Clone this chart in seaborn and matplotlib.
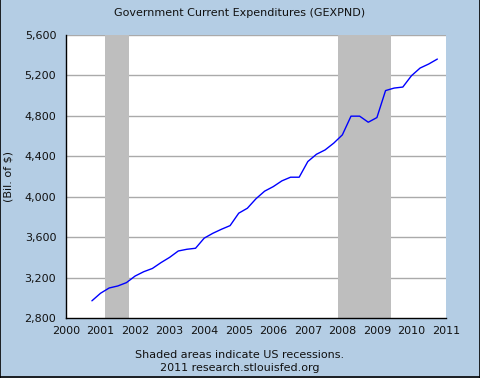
"""FRED-style chart: Government Current Expenditures (GEXPND)."""

import matplotlib
matplotlib.use('Agg')
import matplotlib.pyplot as plt
from matplotlib.lines import Line2D
import pandas as pd
import seaborn as sns

# Quarterly values, billions of dollars
quarters = pd.date_range('2000-10-01', periods=41, freq='QS')
expenditures = [
    2970, 3045, 3097, 3117, 3150, 3215, 3258, 3290, 3348, 3400,
    3463, 3480, 3490, 3590, 3638, 3678, 3714, 3837, 3886, 3980,
    4055, 4100, 4157, 4193, 4193, 4348, 4420, 4463, 4530, 4612,
    4797, 4797, 4737, 4783, 5050, 5075, 5085, 5197, 5273, 5313,
    5362,
]
recession_starts = [2001.13, 2007.88]
recession_ends = [2001.83, 2009.42]
year_ticks = list(range(2000, 2012))
value_ticks = list(range(2800, 5601, 400))

BG = '#b4cde4'
FS = 8

df = pd.DataFrame({
    'year': quarters.year + (quarters.month - 1) / 12.0,
    'value': expenditures,
})

sns.set_style('white')
plt.rcParams['font.family'] = ['DejaVu Sans']
plt.rcParams['text.color'] = '#111111'
plt.rcParams['xtick.color'] = '#111111'
plt.rcParams['ytick.color'] = '#111111'
plt.rcParams['axes.labelcolor'] = '#111111'

fig = plt.figure(figsize=(4.8, 3.78), dpi=100, facecolor=BG)
ax = fig.add_axes([66 / 480, 60 / 378, 380 / 480, 283 / 378])
ax.set_facecolor('white')

# recession shading
for start, end in zip(recession_starts, recession_ends):
    ax.axvspan(start, end, color='#bebebe', lw=0, zorder=1)

# horizontal grid
for v in value_ticks[1:]:
    ax.axhline(v, color='#aaaaaa', lw=1, zorder=0.5)

sns.lineplot(data=df, x='year', y='value', ax=ax, color='#0000ff', lw=1, zorder=3)

ax.set_xlim(2000, 2011)
ax.set_ylim(2800, 5600)
ax.set_xticks(year_ticks)
ax.set_yticks(value_ticks)
ax.set_yticklabels([f'{v:,}' for v in value_ticks])
ax.tick_params(axis='x', direction='in', length=5, width=1, color='black',
               labelsize=FS, pad=6)
ax.tick_params(axis='y', direction='out', length=3, width=1, color='black',
               labelsize=FS, pad=4)
ax.set_xlabel('')
ax.set_ylabel('(Bil. of $)', fontsize=FS, labelpad=8)

for side in ['top', 'right']:
    ax.spines[side].set_visible(False)
for side in ['left', 'bottom']:
    ax.spines[side].set_color('black')
    ax.spines[side].set_linewidth(1)

fig.text(0.5, 1 - 13 / 378, 'Government Current Expenditures (GEXPND)',
         ha='center', va='center', fontsize=FS)
fig.text(0.5, 1 - 355 / 378, 'Shaded areas indicate US recessions.',
         ha='center', va='center', fontsize=FS)
fig.text(0.5, 1 - 368 / 378, '2011 research.stlouisfed.org',
         ha='center', va='center', fontsize=FS)

# dark frame on left, right and bottom edges
for xs, ys in [([0.001, 0.001], [0, 1]), ([0.999, 0.999], [0, 1]), ([0, 1], [0.0015, 0.0015])]:
    fig.add_artist(Line2D(xs, ys, transform=fig.transFigure, color='black', lw=1.2))

fig.savefig('out.png', dpi=100, facecolor=BG)
plt.close(fig)
